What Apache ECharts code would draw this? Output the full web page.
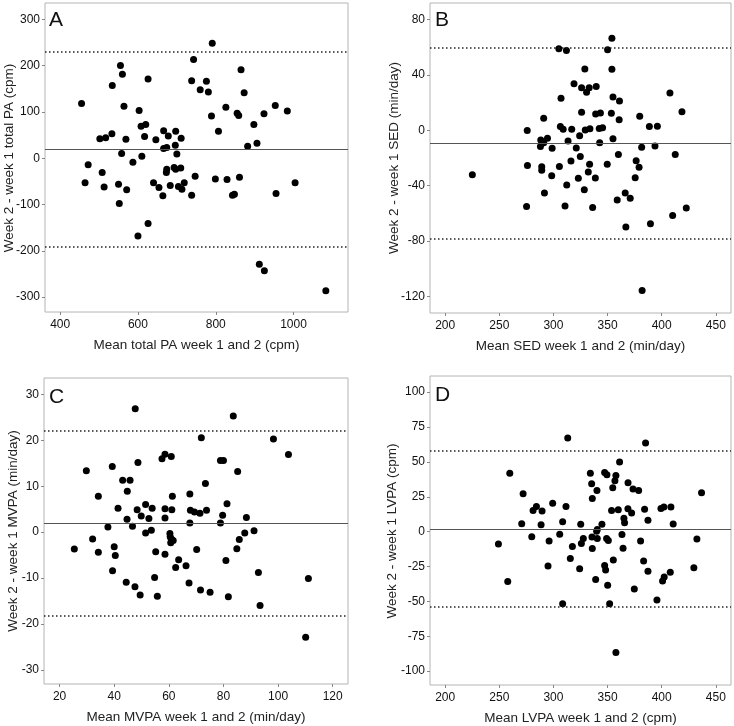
<!DOCTYPE html>
<html><head><meta charset="utf-8">
<script src="https://cdn.jsdelivr.net/npm/echarts@6/dist/echarts.min.js"></script>
<style>html,body{margin:0;padding:0;background:#fff}#c{width:734px;height:726px}</style>
</head><body><div id="c"></div>
<script>
// ---- Panel A: total PA (cpm)
const xA = [455,555,560,534,626,564,603,502,517,533,569,608,620,617,646,666,678,697,711,666,674,696,700,558,610,587,472,508,791,743,738,776,760,781,865,873,789,826,855,859,807,898,924,953,984,882,906,
  464,513,550,571,552,626,600,640,654,664,673,674,693,697,710,683,704,713,719,738,747,799,829,861,843,848,955,1004,912,925,1083];
const yA = [118,200,181,157,171,112,103,42,44,53,41,69,73,47,40,59,48,58,43,21,23,28,9,10,4,-9,-14,-31,248,213,167,166,148,143,191,141,91,110,97,92,58,73,96,114,102,26,32,
  -53,-62,-56,-68,-98,-141,-168,-53,-63,-81,-31,-24,-20,-24,-21,-59,-61,-67,-53,-80,-39,-45,-46,-41,-80,-78,-76,-53,-229,-243,-286];
const meanA = 19, loaA = [-191, 229];
const xTicksA = [400,600,800,1000], yTicksA = [-300,-200,-100,0,100,200,300];

// ---- Panel B: SED (min/day)
const xB = [354,305,312,350,329,354,319,326,333,339.5,330.6,307,355,361,407.6,418.7,326,339,343.4,353.5,360.7,379.7,291,275.8,306.4,309,316.9,329.4,333.7,342.3,345.4,388.6,396,288.3,291,294.5,288,298.8,313.5,324.2,321.1,342.7,355,381.5,393.8,324.8,316.2,360,412.5,333.4,
  276,289.2,289.2,298.4,305.5,349.7,376.4,379.1,225.1,312.3,323,332.2,338.7,328.5,375.5,291.7,366.3,358.9,370.9,275.2,310.7,336.2,366.9,389.6,410.1,422.7,381.9];
const yB = [66.5,59,57.6,58.3,44.3,44.1,33.7,30.8,30.8,31.6,27.5,23.1,24.1,21.2,27,13.5,13,11.8,12.5,12.3,7.7,10.1,8.7,-0.2,2.7,0.7,0.7,0.2,1.2,1.4,1.9,2.7,2.9,-7,-8.9,-5.8,-11.6,-13,-7.7,-3.9,-12.8,-8.9,-6,-12.3,-11.3,-19,-22.2,-17.4,-17.4,-24.6,
  -25.5,-26.4,-28.8,-32.8,-26.1,-24.5,-21.9,-26.6,-32.1,-39.5,-34.7,-30.2,-34.5,-42.9,-34.3,-45.3,-45.3,-50.3,-49.1,-55,-54.6,-55.8,-69.9,-67.5,-61.5,-56.2,-115.7];
const meanB = -9.5, loaB = [-78.5, 59.5];
const xTicksB = [200,250,300,350,400,450], yTicksB = [-120,-80,-40,0,40,80];

// ---- Panel C: MVPA (min/day)
const xC = [29.8,34.2,39.3,43.1,45.8,44.8,48.7,47.7,41.4,48.4,51.5,53.9,49.9,52.7,44.7,46.7,37.7,51.5,53.6,57.5,58.6,60.9,58.6,61.1,61.3,58.6,60.4,67.7,67.9,69.4,71.4,73.8,67.7,71.9,73.4,78.9,80,83.6,85.2,81.3,79.7,78.9,88.4,87.8,91.2,98.3,103.8,
  25.4,32.1,34.2,40,40.4,39.4,44.4,47.6,49.5,55.2,54.8,55.8,58.6,60.5,60.9,61.6,60.7,63.6,62.5,66.3,67.4,70.2,71.6,75.1,80.9,81.8,84.9,85.8,92.8,93.4,111.1,110.1];
const yC = [13.4,7.8,14.3,11.3,11.3,8.9,15.2,26.9,5.2,4.9,6,5.2,3.5,3,2.8,1.3,1.1,-0.2,0.4,16,17,16.5,5.1,4.9,7.8,3.1,-0.3,8.3,4.8,4.4,4.1,4.8,2,20.6,10.6,15.6,15.6,25.3,13.2,6.2,3.7,2,3.2,-0.2,0.3,20.3,16.9,
  -3.7,-1.5,-4.4,-3.2,-5.1,-8.4,-10.9,-11.9,-13.7,-4.3,-9.9,-14,-4.8,-1,-1.5,-1.8,-2.3,-6,-7.7,-7.3,-11.1,-3.8,-12.6,-13.1,-6.2,-14.1,-3.6,-1.6,-8.8,-16,-10.1,-22.9];
const meanC = 2, loaC = [-18.2, 22.2];
const xTicksC = [20,40,60,80,100,120], yTicksC = [-30,-20,-10,0,10,20,30];

// ---- Panel D: LVPA (cpm)
const xD = [259.7,272,270.7,281.2,284.3,289.5,288.6,299.3,308.5,311.6,313.2,325.2,334.1,335.3,340.2,335.9,347.3,349.4,357.7,356.8,361.1,354.8,368.9,373.5,378.7,385.1,353.7,359.9,368.8,372.2,365.1,365.7,344.8,340.5,339.9,384.2,387.3,399.3,402,408.5,410.6,436.8,
  249.2,257.8,280,296,295,305.8,317.5,315.6,325.8,327.6,324.2,335.6,340.5,335.9,339,347.3,348.2,349.1,350.7,350.1,351.9,308.5,355.3,363.3,364.3,357.7,374.7,380.5,383.3,387.3,395.6,400.8,402.3,407.9,429.7,432.5];
const yD = [41.9,27.1,5.7,15.2,18.1,14.7,5,20.4,7.1,18.1,67.1,5.2,41.9,34.3,29.5,23.8,42.4,40.7,40.2,36.4,50,31.4,35,30.5,29.5,63.6,15.2,15.7,16.4,13.3,9.5,6.4,5.2,1.6,0.2,16.1,8.1,16.6,17.6,17.6,5.4,27.9,
  -8.8,-35.7,-3.6,-6.7,-24.6,-1.9,-10.7,-19.3,-8.6,-5,-26.7,-3.8,-5,-12.1,-34.3,-24.3,-27.6,-5,-6.4,-38.4,-51.7,-51.7,-20.3,-2.1,-11.9,-86.7,-41.2,-6.7,-21,-28.4,-49.1,-35.5,-32.6,-29.1,-26,-5.3];
const meanD = 2, loaD = [-54, 58];
const xTicksD = [200,250,300,350,400,450], yTicksD = [-100,-75,-50,-25,0,25,50,75,100];

const panels = [
  {x:xA,y:yA,mean:meanA,loa:loaA,xt:xTicksA,yt:yTicksA,xr:[361,1140],yr:[-332,335],
   grid:{left:45,top:3,width:303,height:309},label:'A',lp:[49,10],yTitle:[9,158],
   xName:'Mean total PA week 1 and 2 (cpm)',yName:'Week 2 - week 1 total PA (cpm)'},
  {x:xB,y:yB,mean:meanB,loa:loaB,xt:xTicksB,yt:yTicksB,xr:[186,464],yr:[-132,92],
   grid:{left:430,top:3,width:301,height:310},label:'B',lp:[435,10],yTitle:[394,158],
   xName:'Mean SED week 1 and 2 (min/day)',yName:'Week 2 - week 1 SED (min/day)'},
  {x:xC,y:yC,mean:meanC,loa:loaC,xt:xTicksC,yt:yTicksC,xr:[14.3,125.6],yr:[-33.1,33.6],
   grid:{left:44,top:378,width:304,height:306},label:'C',lp:[49,387],yTitle:[13,531],
   xName:'Mean MVPA week 1 and 2 (min/day)',yName:'Week 2 - week 1 MVPA (min/day)'},
  {x:xD,y:yD,mean:meanD,loa:loaD,xt:xTicksD,yt:yTicksD,xr:[186,464],yr:[-110,111.6],
   grid:{left:430,top:376,width:301,height:310},label:'D',lp:[435,385],yTitle:[392,531],
   xName:'Mean LVPA week 1 and 2 (cpm)',yName:'Week 2 - week 1 LVPA (cpm)'}
];

const FONT = '"Liberation Sans", Arial, sans-serif';
const fmt = v => String(v);
const grids=[], xAxes=[], yAxes=[], series=[], graphics=[];
panels.forEach((p,i)=>{
  grids.push(Object.assign({show:true,borderColor:'#b4b4b4',borderWidth:1,backgroundColor:'#fff',containLabel:false},p.grid));
  xAxes.push({type:'value',gridIndex:i,min:p.xr[0],max:p.xr[1],
    axisLine:{show:false,onZero:false},splitLine:{show:false},
    axisTick:{show:true,length:3,lineStyle:{color:'#888'},customValues:p.xt},
    axisLabel:{customValues:p.xt,formatter:fmt,color:'#111',fontSize:12,fontFamily:FONT,margin:7},
    name:p.xName,nameLocation:'middle',nameGap:26,
    nameTextStyle:{color:'#222',fontSize:13.5,fontFamily:FONT}});
  yAxes.push({type:'value',gridIndex:i,min:p.yr[0],max:p.yr[1],
    axisLine:{show:false,onZero:false},splitLine:{show:false},
    axisTick:{show:true,length:3,lineStyle:{color:'#888'},customValues:p.yt},
    axisLabel:{customValues:p.yt,formatter:fmt,color:'#111',fontSize:12,fontFamily:FONT,margin:5}});
  series.push({type:'scatter',xAxisIndex:i,yAxisIndex:i,symbolSize:7,
    itemStyle:{color:'#000',opacity:1},data:p.x.map((v,k)=>[v,p.y[k]]),
    markLine:{silent:true,symbol:'none',label:{show:false},animation:false,
      data:[
        {yAxis:p.mean,lineStyle:{type:'solid',color:'#555',width:1}},
        {yAxis:p.loa[0],lineStyle:{type:[1.5,2.5],color:'#222',width:1.5}},
        {yAxis:p.loa[1],lineStyle:{type:[1.5,2.5],color:'#222',width:1.5}}
      ]}});
  graphics.push({type:'text',left:p.lp[0],top:p.lp[1],
    style:{text:p.label,fontSize:21,fontFamily:FONT,fill:'#111',fontWeight:'normal'}});
  graphics.push({type:'text',x:p.yTitle[0],y:p.yTitle[1],rotation:Math.PI/2,
    style:{text:p.yName,fontSize:13.5,fontFamily:FONT,fill:'#222',align:'center',verticalAlign:'middle'}});
});

const chart = echarts.init(document.getElementById('c'),null,{renderer:'canvas'});
chart.setOption({animation:false,grid:grids,xAxis:xAxes,yAxis:yAxes,series:series,graphic:graphics});
</script></body></html>
